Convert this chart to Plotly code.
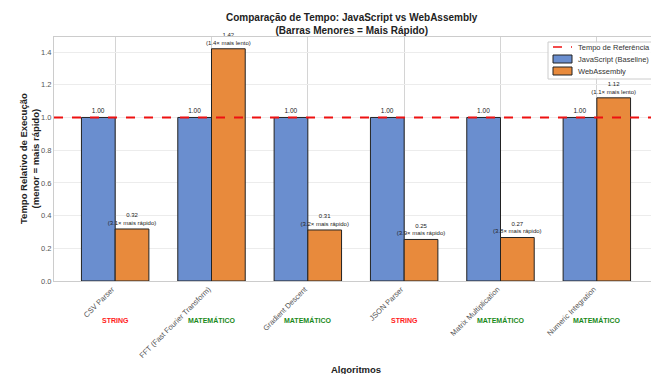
import plotly.graph_objects as go

algoritmos = ["CSV Parser", "FFT (Fast Fourier Transform)", "Gradient Descent",
              "JSON Parser", "Matrix Multiplication", "Numeric Integration"]
categorias = ["STRING", "MATEMÁTICO", "MATEMÁTICO", "STRING", "MATEMÁTICO", "MATEMÁTICO"]
js_tempo = [1.0, 1.0, 1.0, 1.0, 1.0, 1.0]
wasm_tempo = [0.318, 1.42, 0.312, 0.254, 0.266, 1.12]
referencia = 1.0

cat_cores = {"STRING": "#ff2020", "MATEMÁTICO": "#1a8a1a"}
COR_JS = "#6a8ecf"
COR_WASM = "#e88a3c"
COR_REF = "#ee1111"
FONT = "Liberation Sans, Arial, sans-serif"

OFF = 8  # page body margin offset
WIN_W, WIN_H = 659, 374
W, H = WIN_W - OFF, WIN_H - OFF
L, R, T, B = 54, 658, 37, 281  # plot area in window pixels


def px(xp):
    return (xp - L) / (R - L)


def py(yp):
    return (B - yp) / (B - T)


def wasm_label(v):
    if v < 1:
        return f"{v:.2f}<br>({1/v:.1f}× mais rápido)"
    return f"{v:.2f}<br>({v:.1f}× mais lento)"


x = list(range(len(algoritmos)))

fig = go.Figure()
fig.add_trace(go.Bar(
    x=x, y=js_tempo, name="JavaScript (Baseline)", showlegend=False,
    marker=dict(color=COR_JS, line=dict(color="#222222", width=1)),
    text=[f"{v:.2f}" for v in js_tempo], textposition="outside",
    textfont=dict(size=6.5, color="#222", family=FONT),
    constraintext="none", cliponaxis=False,
))
fig.add_trace(go.Bar(
    x=x, y=wasm_tempo, name="WebAssembly", showlegend=False,
    marker=dict(color=COR_WASM, line=dict(color="#222222", width=1)),
    text=[wasm_label(v) for v in wasm_tempo], textposition="outside",
    textfont=dict(size=6, color="#222", family=FONT),
    constraintext="none", cliponaxis=False,
))

fig.add_shape(type="line", xref="paper", x0=0, x1=1, yref="y", y0=referencia, y1=referencia,
              line=dict(color=COR_REF, width=2, dash="dash"))

# category labels under ticks
for i, c in enumerate(categorias):
    fig.add_annotation(x=i, xref="x", y=py(320), yref="paper", yanchor="middle",
                       text=f"<b>{c}</b>", showarrow=False,
                       font=dict(size=7, color=cat_cores[c], family=FONT))

# axis titles
fig.add_annotation(x=0.5, xref="paper", y=py(369), yref="paper", yanchor="middle",
                   text="<b>Algoritmos</b>", showarrow=False,
                   font=dict(size=9.5, color="#222", family=FONT))
fig.add_annotation(x=px(29), xref="paper", y=py(159), yref="paper",
                   xanchor="center", yanchor="middle", textangle=-90,
                   text="<b>Tempo Relativo de Execução<br>(menor = mais rápido)</b>",
                   showarrow=False, font=dict(size=9.5, color="#222", family=FONT))

# main title
fig.add_annotation(x=351.5, xref="paper", y=py(24), yref="paper",
                   xanchor="center", yanchor="middle", showarrow=False,
                   text="<b>Comparação de Tempo: JavaScript vs WebAssembly<br>(Barras Menores = Mais Rápido)</b>",
                   font=dict(size=10, color="#222", family=FONT))
fig.layout.annotations[-1].x = px(351.5)

# manual legend (compact, like the reference)
fig.add_shape(type="rect", xref="paper", yref="paper",
              x0=px(548), x1=px(655), y0=py(42), y1=py(79),
              fillcolor="rgba(255,255,255,0.85)", line=dict(color="#cccccc", width=1), layer="above")
legend_items = [("line", COR_REF, "Tempo de Referência", 47),
                ("rect", COR_JS, "JavaScript (Baseline)", 59),
                ("rect", COR_WASM, "WebAssembly", 71)]
for kind, cor, label, yc in legend_items:
    if kind == "line":
        fig.add_shape(type="line", xref="paper", yref="paper",
                      x0=px(553), x1=px(572), y0=py(yc), y1=py(yc),
                      line=dict(color=cor, width=1.5, dash="dash"), layer="above")
    else:
        fig.add_shape(type="rect", xref="paper", yref="paper",
                      x0=px(553), x1=px(572), y0=py(yc + 4), y1=py(yc - 4),
                      fillcolor=cor, line=dict(color="#222222", width=1), layer="above")
    fig.add_annotation(x=px(576), xref="paper", y=py(yc), yref="paper",
                       xanchor="left", yanchor="middle", text=label, showarrow=False,
                       font=dict(size=7.5, color="#333", family=FONT))

fig.update_layout(
    width=W, height=H,
    margin=dict(l=L - OFF, r=WIN_W - R, t=T - OFF, b=WIN_H - B),
    paper_bgcolor="white", plot_bgcolor="white",
    barmode="group", bargap=0.3, bargroupgap=0,
    showlegend=False,
    font=dict(family=FONT, color="#333"),
    xaxis=dict(range=[-0.635, 5.635], tickvals=x, ticktext=algoritmos, tickangle=-45,
               tickfont=dict(size=7.5, color="#555", family=FONT), ticklabelshift=-3,
               showgrid=True, gridcolor="#d4d4d4", gridwidth=1,
               showline=True, linecolor="#cccccc", mirror=True, ticks="",
               zeroline=False, automargin=False),
    yaxis=dict(range=[0, 1.492], dtick=0.2, tickformat=".1f",
               tickfont=dict(size=7.5, color="#555", family=FONT),
               showgrid=True, gridcolor="#ececec", gridwidth=1,
               showline=True, linecolor="#cccccc", mirror=True, ticks="",
               zeroline=False, automargin=False),
)

fig.write_html("out.html")
